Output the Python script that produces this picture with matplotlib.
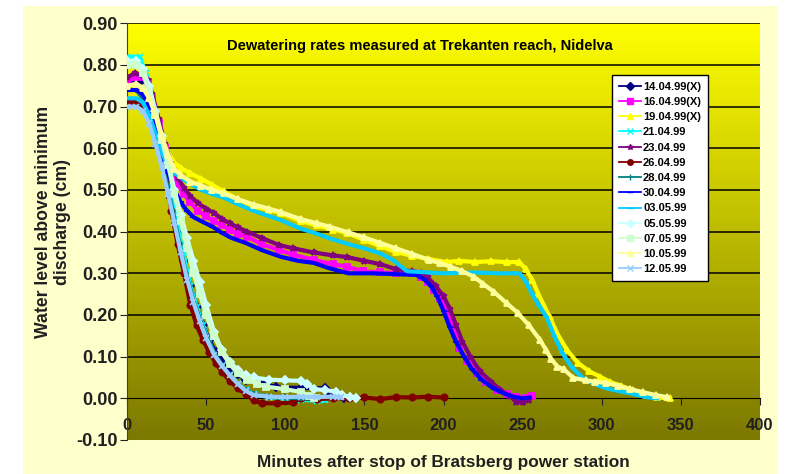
import numpy as np
import matplotlib.pyplot as plt
from matplotlib.patches import Rectangle
from matplotlib.lines import Line2D
from matplotlib.colors import LinearSegmentedColormap

plt.rcParams["font.family"] = ["Liberation Sans", "DejaVu Sans"]
plt.rcParams["font.weight"] = "bold"

# ── data (minutes, water level) ──────────────────────────────────────────────
t_1404 = [0, 8, 12, 16, 20, 24, 28, 32, 36, 40, 44, 48, 52, 56, 60, 65, 70, 75, 82, 88, 94, 110, 125, 128, 134, 137]
v_1404 = [0.76, 0.76, 0.73, 0.68, 0.62, 0.55, 0.48, 0.40, 0.33, 0.27, 0.22, 0.175, 0.14, 0.11, 0.09, 0.07, 0.058, 0.045, 0.04, 0.035, 0.026, 0.025, 0.024, 0.012, 0.008, 0.0]

t_1604 = [0, 5, 10, 13, 16, 20, 24, 28, 32, 36, 40, 45, 50, 55, 60, 65, 70, 76, 85, 96, 105, 118, 130, 139, 149, 160, 170, 181, 186, 190, 194, 198, 201, 204, 207, 210, 215, 221, 227, 234, 240, 246, 252, 256]
v_1604 = [0.76, 0.77, 0.77, 0.76, 0.72, 0.66, 0.60, 0.55, 0.515, 0.49, 0.47, 0.45, 0.437, 0.425, 0.415, 0.405, 0.395, 0.388, 0.37, 0.356, 0.345, 0.332, 0.322, 0.316, 0.305, 0.302, 0.301, 0.30, 0.29, 0.28, 0.26, 0.24, 0.22, 0.196, 0.155, 0.12, 0.09, 0.061, 0.04, 0.02, 0.01, 0.003, 0.0, 0.005]

t_1904 = [0, 6, 10, 14, 18, 22, 26, 30, 34, 40, 47, 54, 61, 70, 80, 90, 97, 110, 120, 130, 139, 150, 160, 170, 180, 190, 202, 210, 220, 230, 240, 248, 252, 256, 260, 267, 272, 278, 285, 292, 299, 305, 312, 320, 328, 335, 343]
v_1904 = [0.745, 0.75, 0.745, 0.72, 0.68, 0.63, 0.59, 0.565, 0.553, 0.54, 0.527, 0.512, 0.497, 0.478, 0.46, 0.452, 0.445, 0.425, 0.415, 0.405, 0.397, 0.38, 0.365, 0.351, 0.342, 0.335, 0.327, 0.33, 0.327, 0.329, 0.327, 0.327, 0.31, 0.285, 0.25, 0.196, 0.155, 0.116, 0.085, 0.065, 0.052, 0.04, 0.03, 0.02, 0.008, 0.002, 0.0]

t_2104 = [0, 8, 12, 16, 20, 24, 28, 32, 36, 40, 44, 48, 52, 56, 60, 65, 70, 75, 80, 90, 100, 110, 120, 125]
v_2104 = [0.82, 0.82, 0.78, 0.72, 0.65, 0.57, 0.49, 0.41, 0.34, 0.27, 0.22, 0.175, 0.135, 0.10, 0.078, 0.055, 0.035, 0.02, 0.01, 0.003, 0.0, -0.003, -0.006, -0.005]

t_2304 = [0, 5, 10, 13, 16, 20, 24, 28, 32, 36, 40, 45, 50, 55, 60, 65, 70, 76, 85, 96, 105, 118, 130, 139, 150, 160, 170, 180, 186, 190, 195, 200, 204, 208, 212, 217, 223, 230, 236, 242, 246, 250, 254]
v_2304 = [0.77, 0.78, 0.775, 0.765, 0.73, 0.67, 0.61, 0.565, 0.53, 0.505, 0.485, 0.468, 0.455, 0.445, 0.43, 0.42, 0.41, 0.40, 0.385, 0.368, 0.36, 0.35, 0.343, 0.339, 0.33, 0.322, 0.31, 0.305, 0.30, 0.29, 0.27, 0.245, 0.215, 0.175, 0.135, 0.10, 0.065, 0.04, 0.02, 0.005, -0.008, -0.01, -0.003]

t_2604 = [0, 4, 8, 12, 16, 20, 24, 28, 32, 36, 40, 44, 48, 52, 56, 60, 65, 70, 75, 80, 85, 95, 105, 110, 120, 130, 140, 150, 160, 170, 180, 190, 200]
v_2604 = [0.71, 0.71, 0.705, 0.69, 0.66, 0.62, 0.55, 0.45, 0.37, 0.30, 0.225, 0.175, 0.14, 0.11, 0.085, 0.063, 0.042, 0.024, 0.01, -0.005, -0.012, -0.012, -0.01, 0.0, -0.002, 0.0, 0.0, 0.002, -0.002, 0.003, 0.002, 0.004, 0.002]

t_2804 = [0, 6, 10, 14, 18, 22, 26, 30, 34, 38, 42, 46, 50, 55, 60, 65, 70, 75, 80, 90, 100, 110, 120]
v_2804 = [0.74, 0.74, 0.72, 0.68, 0.63, 0.57, 0.50, 0.43, 0.355, 0.29, 0.235, 0.19, 0.15, 0.11, 0.08, 0.055, 0.035, 0.02, 0.01, 0.004, 0.002, 0.0, 0.0]

t_3004 = [0, 6, 10, 14, 18, 22, 26, 30, 34, 38, 42, 47, 54, 60, 66, 75, 85, 97, 108, 118, 128, 140, 155, 170, 183, 188, 192, 196, 200, 204, 208, 213, 218, 224, 231, 238, 244, 250, 254]
v_3004 = [0.74, 0.74, 0.73, 0.70, 0.65, 0.59, 0.54, 0.50, 0.47, 0.45, 0.435, 0.425, 0.412, 0.397, 0.385, 0.373, 0.356, 0.34, 0.33, 0.325, 0.312, 0.30, 0.30, 0.298, 0.296, 0.285, 0.27, 0.245, 0.21, 0.17, 0.135, 0.10, 0.07, 0.045, 0.025, 0.012, 0.004, 0.0, 0.002]

t_0305 = [0, 6, 10, 14, 18, 22, 26, 30, 34, 40, 47, 54, 61, 70, 80, 90, 97, 110, 120, 128, 140, 150, 160, 168, 177, 200, 220, 235, 248, 252, 256, 260, 265, 270, 275, 281, 288, 295, 302, 310, 318, 328, 335]
v_0305 = [0.72, 0.72, 0.71, 0.68, 0.635, 0.59, 0.555, 0.54, 0.53, 0.515, 0.50, 0.49, 0.482, 0.466, 0.45, 0.437, 0.428, 0.407, 0.395, 0.384, 0.37, 0.36, 0.348, 0.332, 0.305, 0.30, 0.302, 0.30, 0.30, 0.28, 0.25, 0.225, 0.196, 0.15, 0.109, 0.075, 0.049, 0.035, 0.025, 0.018, 0.012, 0.003, 0.0]

t_0505 = [0, 6, 10, 14, 18, 22, 26, 30, 34, 38, 42, 46, 50, 55, 60, 65, 70, 75, 80, 90, 100, 110, 114, 118, 125, 132, 136, 141, 145]
v_0505 = [0.81, 0.81, 0.79, 0.75, 0.69, 0.63, 0.565, 0.50, 0.44, 0.385, 0.33, 0.28, 0.225, 0.16, 0.115, 0.088, 0.068, 0.056, 0.05, 0.045, 0.043, 0.042, 0.035, 0.022, 0.02, 0.016, 0.008, 0.003, 0.0]

t_0705 = [0, 6, 10, 14, 18, 22, 26, 30, 34, 38, 42, 46, 50, 55, 60, 65, 70, 76, 82, 88, 100, 110, 115, 118]
v_0705 = [0.80, 0.80, 0.78, 0.735, 0.68, 0.62, 0.56, 0.49, 0.425, 0.36, 0.30, 0.25, 0.2, 0.15, 0.11, 0.082, 0.06, 0.045, 0.035, 0.028, 0.022, 0.015, 0.005, 0.0]

t_1005 = [0, 6, 10, 14, 18, 22, 26, 30, 34, 40, 47, 54, 61, 70, 80, 90, 97, 110, 120, 128, 140, 150, 160, 170, 180, 191, 198, 205, 212, 219, 225, 232, 240, 247, 254, 261, 265, 268, 272, 276, 282, 290, 296, 303, 310, 318, 326, 334, 341]
v_1005 = [0.75, 0.755, 0.745, 0.72, 0.68, 0.63, 0.585, 0.55, 0.535, 0.52, 0.51, 0.50, 0.492, 0.478, 0.465, 0.455, 0.447, 0.43, 0.42, 0.412, 0.398, 0.386, 0.373, 0.36, 0.347, 0.332, 0.324, 0.315, 0.305, 0.292, 0.275, 0.255, 0.228, 0.205, 0.175, 0.14, 0.115, 0.095, 0.076, 0.07, 0.049, 0.043, 0.04, 0.037, 0.03, 0.022, 0.015, 0.008, 0.003]

t_1205 = [0, 6, 10, 14, 18, 22, 26, 30, 34, 38, 42, 46, 50, 55, 60, 65, 70, 75, 80, 90, 100, 110, 120, 130, 135]
v_1205 = [0.70, 0.70, 0.69, 0.66, 0.61, 0.555, 0.49, 0.42, 0.35, 0.285, 0.23, 0.185, 0.145, 0.105, 0.078, 0.055, 0.035, 0.018, 0.008, 0.004, 0.003, 0.004, 0.003, 0.004, 0.002]

labels = ["14.04.99(X)", "16.04.99(X)", "19.04.99(X)", "21.04.99", "23.04.99", "26.04.99",
          "28.04.99", "30.04.99", "03.05.99", "05.05.99", "07.05.99", "10.05.99", "12.05.99"]
times = [t_1404, t_1604, t_1904, t_2104, t_2304, t_2604, t_2804, t_3004, t_0305, t_0505, t_0705, t_1005, t_1205]
levels = [v_1404, v_1604, v_1904, v_2104, v_2304, v_2604, v_2804, v_3004, v_0305, v_0505, v_0705, v_1005, v_1205]
colors = ["#000080", "#FF00FF", "#FFFF00", "#00FFFF", "#800080", "#800000", "#008080",
          "#0000FF", "#00CCFF", "#CCFFFF", "#CCFFCC", "#FFFF99", "#99CCFF"]
markers = ["D", "s", "^", "x", "*", "o", "|", "_", "_", "D", "s", "^", "x"]

yticks = [-0.1, 0.0, 0.1, 0.2, 0.3, 0.4, 0.5, 0.6, 0.7, 0.8, 0.9]
xticks = [0, 50, 100, 150, 200, 250, 300, 350, 400]

# ── figure ───────────────────────────────────────────────────────────────────
W, H = 789, 474
fig = plt.figure(figsize=(W / 100, H / 100), dpi=100)
fig.patches.append(Rectangle((23 / W, 0), (778 - 23) / W, 1 - 6 / H, transform=fig.transFigure,
                             facecolor="#FFFFCC", edgecolor="none", zorder=-5))
ax = fig.add_axes([127 / W, 34 / H, 633 / W, 416.7 / H])
ax.set_facecolor("none")

# yellow -> olive plot-area gradient
grad = LinearSegmentedColormap.from_list("yo", ["#7C7800", "#FFFF00"])
ax.imshow(np.linspace(0, 1, 256).reshape(-1, 1), cmap=grad, origin="lower",
          extent=[0, 400, -0.1, 0.9], aspect="auto", zorder=0)

for y in yticks:
    if y >= 0.05:
        ax.axhline(y, color="black", lw=1.1, zorder=1)

for i in range(len(labels)):
    ax.plot(times[i], levels[i], color=colors[i], marker=markers[i], ms=4.5, mew=1.3,
            lw=3.0, zorder=2 + i)

ax.set_xlim(0, 400)
ax.set_ylim(-0.1, 0.9)
ax.set_xticks(xticks)
ax.set_yticks(yticks)
ax.set_yticklabels([f"{y:.2f}" for y in yticks])

for s in ["top", "right"]:
    ax.spines[s].set_visible(False)
ax.spines["bottom"].set_position(("data", 0))
ax.spines["bottom"].set_color("black")
ax.spines["left"].set_color("#404040")
ax.tick_params(axis="y", direction="out", length=5, labelsize=13, pad=1.5, colors="#202020")
ax.tick_params(axis="x", direction="out", length=5, labelsize=12, pad=9, colors="#202020")

ax.text(0.463, 0.945, "Dewatering rates measured at Trekanten reach, Nidelva",
        transform=ax.transAxes, ha="center", va="center", fontsize=10.5, fontweight="bold")

fig.text(443 / W, 1 - 463 / H, "Minutes after stop of Bratsberg power station",
         ha="center", va="center", fontsize=12.4, fontweight="bold", color="#202020")
fig.text(53 / W, 1 - 222 / H, "Water level above minimum\ndischarge (cm)", rotation=90,
         ha="center", va="center", multialignment="center", fontsize=12.7,
         fontweight="bold", color="#202020", linespacing=1.15)

handles = [Line2D([], [], color=colors[i], marker=markers[i], ms=4, mew=1, lw=1.3)
           for i in range(len(labels))]
leg = fig.legend(handles, labels, loc="upper left", bbox_to_anchor=(612 / W, 1 - 75 / H),
                 fontsize=8, frameon=True, fancybox=False, borderaxespad=0,
                 labelspacing=0.47, handlelength=2.0, handletextpad=0.2, borderpad=0.6)
leg.get_frame().set_edgecolor("black")
leg.get_frame().set_linewidth(1)
leg.get_frame().set_facecolor("white")
leg.get_frame().set_alpha(1)

fig.savefig("out.png", dpi=100)
